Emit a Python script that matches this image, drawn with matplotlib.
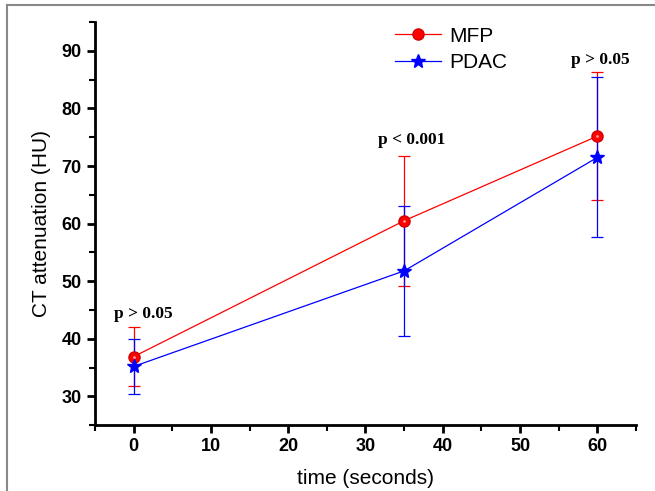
import numpy as np
from matplotlib import pyplot as plt
from matplotlib.lines import Line2D

# time points (seconds)
t = [0, 35, 60]

# CT attenuation (HU), mean and sd
mfp = [36.9, 60.5, 75.2]
mfp_sd = [5.1, 11.3, 11.05]
pdac = [35.2, 51.8, 71.5]
pdac_sd = [4.75, 11.35, 13.9]

p_labels = ['p > 0.05', 'p < 0.001', 'p > 0.05']
p_x = [1.2, 36.0, 60.4]
p_y = [44.3, 74.5, 88.5]

plt.rcParams['font.family'] = ['Liberation Sans', 'DejaVu Sans']

fig = plt.figure(figsize=(6.55, 4.91), dpi=100)
ax = fig.add_axes([0.145, 0.134, 0.826, 0.821])

# grey frame (left and top edges only are visible)
fig.add_artist(Line2D([7/655, 7/655], [0, 1 - 5/491], color='#888888', lw=1.5))
fig.add_artist(Line2D([7/655, 1], [1 - 5/491, 1 - 5/491], color='#888888', lw=1.5))

ax.errorbar(t, mfp, yerr=mfp_sd, color='red', lw=0.9, elinewidth=0.9,
            capsize=4, capthick=0.9, fmt='none', zorder=3)
ax.errorbar(t, pdac, yerr=pdac_sd, color='blue', lw=0.9, elinewidth=0.9,
            capsize=4, capthick=0.9, fmt='none', zorder=4)
l1, = ax.plot(t, mfp, color='red', lw=0.9, marker='o', ms=8, mfc='red',
              mec='#d00000', label='MFP', zorder=5)
l2, = ax.plot(t, pdac, color='blue', lw=0.9, marker='*', ms=10, mfc='blue',
              mec='blue', label='PDAC', zorder=6)
# small highlight on the red balls
ax.plot(t, mfp, 'o', ms=2, color='#ff9999', mec='none', zorder=7)

for s, xx, yy in zip(p_labels, p_x, p_y):
    ax.text(xx, yy, s, ha='center', va='center', fontsize=12.5, fontweight='bold',
            family='Liberation Serif')

ax.set_xlim(-5, 65)
ax.set_ylim(25, 95)
ax.set_xticks(np.arange(0, 61, 10))
ax.set_xticks(np.arange(-5, 66, 5), minor=True)
ax.set_yticks(np.arange(30, 91, 10))
ax.set_yticks(np.arange(25, 96, 5), minor=True)

for side in ['top', 'right']:
    ax.spines[side].set_visible(False)
for side in ['left', 'bottom']:
    ax.spines[side].set_linewidth(2)

ax.tick_params(which='major', direction='out', length=6, width=2, labelsize=13)
ax.tick_params(which='minor', direction='out', length=4, width=1.5)
for lab in ax.get_xticklabels() + ax.get_yticklabels():
    lab.set_fontweight('bold')

ax.set_xlabel('time (seconds)', fontsize=15, labelpad=10)
ax.set_ylabel('CT attenuation (HU)', fontsize=15, labelpad=8)

ax.legend(handles=[l1, l2], loc='upper left', bbox_to_anchor=(0.52, 1.035),
          frameon=False, fontsize=15, handlelength=2.2, handletextpad=0.4,
          labelspacing=0.35)

fig.savefig('out.png', dpi=100)
